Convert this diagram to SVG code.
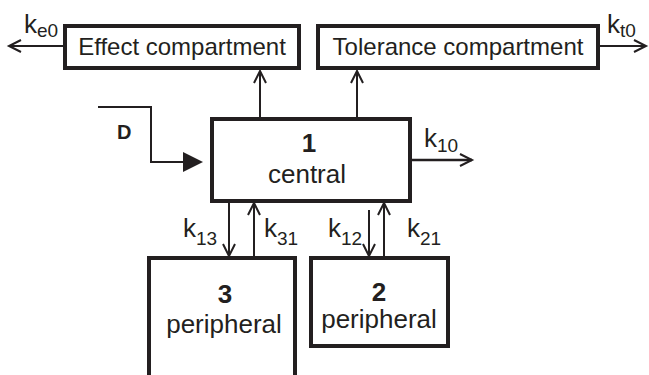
<svg xmlns="http://www.w3.org/2000/svg" width="649" height="375" viewBox="0 0 649 375">
<style>
.box{fill:#fff;stroke:#231f20;stroke-width:4}
.ln{fill:none;stroke:#231f20;stroke-width:2}
.t{font-family:"Liberation Sans",Arial,sans-serif;fill:#231f20}
.lbl{font-size:24px}
.main{font-size:26px}
.num{font-size:26px;font-weight:bold}
.k{font-size:26px}
.sub{font-size:19px}
</style>
<defs>
<marker id="arr" markerUnits="userSpaceOnUse" markerWidth="16" markerHeight="16" refX="13" refY="7" orient="auto" viewBox="0 0 16 14">
<path d="M1,1 L13,7 L1,13" fill="none" stroke="#231f20" stroke-width="2"/>
</marker>
</defs>
<rect width="649" height="375" fill="#fff"/>
<g id="connectors">
<line class="ln" x1="63" y1="46" x2="9" y2="46" marker-end="url(#arr)"/>
<line class="ln" x1="600" y1="46" x2="646" y2="46" marker-end="url(#arr)"/>
<line class="ln" x1="260" y1="118" x2="260" y2="71" marker-end="url(#arr)"/>
<line class="ln" x1="357" y1="118" x2="357" y2="71" marker-end="url(#arr)"/>
<line class="ln" x1="411" y1="160" x2="472" y2="160" marker-end="url(#arr)" style="stroke-width:2.5"/>
<polyline class="ln" points="98,107 151,107 151,162 186,162"/>
<polygon points="183,152 203,162 183,172" fill="#231f20"/>
<line class="ln" x1="229" y1="202" x2="229" y2="256" marker-end="url(#arr)"/>
<line class="ln" x1="254" y1="256" x2="254" y2="203" marker-end="url(#arr)"/>
<line class="ln" x1="369" y1="210" x2="369" y2="256" marker-end="url(#arr)"/>
<line class="ln" x1="384" y1="256" x2="384" y2="203" marker-end="url(#arr)"/>
</g>
<g id="effect">
<rect class="box" x="65" y="26" width="234" height="42"/>
<text class="t lbl" x="182" y="55" text-anchor="middle">Effect compartment</text>
</g>
<g id="tolerance">
<rect class="box" x="318" y="26" width="280" height="42"/>
<text class="t lbl" x="458" y="55" text-anchor="middle">Tolerance compartment</text>
</g>
<g id="central">
<rect class="box" x="212" y="119" width="198" height="82"/>
<text class="t num" x="309" y="152" text-anchor="middle">1</text>
<text class="t main" x="307" y="183" text-anchor="middle">central</text>
</g>
<g id="peripheral3">
<rect class="box" x="149" y="258" width="146" height="130"/>
<text class="t num" x="225" y="303" text-anchor="middle">3</text>
<text class="t main" x="224" y="333" text-anchor="middle">peripheral</text>
</g>
<g id="peripheral2">
<rect class="box" x="311" y="258" width="137" height="88"/>
<text class="t num" x="379" y="301" text-anchor="middle">2</text>
<text class="t main" x="379" y="328" text-anchor="middle">peripheral</text>
</g>
<g id="labels">
<text class="t" x="117" y="139" style="font-size:20px;font-weight:bold">D</text>
<text class="t k" x="24" y="33">k<tspan class="sub" dy="4">e0</tspan></text>
<text class="t k" x="607" y="33">k<tspan class="sub" dy="4">t0</tspan></text>
<text class="t k" x="424" y="147">k<tspan class="sub" dy="5">10</tspan></text>
<text class="t k" x="183" y="237">k<tspan class="sub" dy="8">13</tspan></text>
<text class="t k" x="264" y="237">k<tspan class="sub" dy="8">31</tspan></text>
<text class="t k" x="328" y="237">k<tspan class="sub" dy="8">12</tspan></text>
<text class="t k" x="407" y="237">k<tspan class="sub" dy="8">21</tspan></text>
</g>
</svg>
